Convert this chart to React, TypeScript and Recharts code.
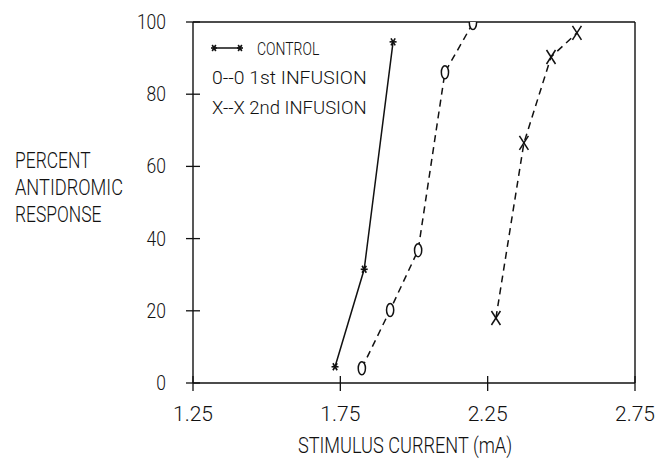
import React from 'react';
import { LineChart, Line, XAxis, YAxis, ReferenceLine, Legend } from 'recharts';

const FONT = 'Roboto, "Liberation Sans", "DejaVu Sans", sans-serif';
const INK = '#111';

const xTicks = [1.25, 1.75, 2.25, 2.75];
const yTicks = [0, 20, 40, 60, 80, 100];

const controlCurrent = [1.732, 1.831, 1.929];
const controlResponse = [4.5, 31.5, 94.5];

const infusion1Current = [1.823, 1.919, 2.014, 2.105, 2.2];
const infusion1Response = [4.1, 20.2, 36.8, 86.1, 99.7];

const infusion2Current = [2.278, 2.373, 2.465, 2.553];
const infusion2Response = [18.0, 66.5, 90.3, 97.0];

const seriesNames = ['CONTROL', '1st INFUSION', '2nd INFUSION'];
const legendSymbols = ['', '0--0', 'X--X'];
const axisTitleX = 'STIMULUS CURRENT (mA)';
const axisTitleY = ['PERCENT', 'ANTIDROMIC', 'RESPONSE'];

const zip = (xs: number[], ys: number[]) => xs.map((x, i) => ({ x, y: ys[i] }));

const controlData = zip(controlCurrent, controlResponse);
const infusion1Data = zip(infusion1Current, infusion1Response);
const infusion2Data = zip(infusion2Current, infusion2Response);

// Plotter-style monospaced text: each character gets a fixed advance.
const PText = ({
  x,
  y,
  text,
  size,
  charW,
  anchor = 'start',
  baseline = 'central',
}: {
  x: number;
  y: number;
  text: string;
  size: number;
  charW: number;
  anchor?: 'start' | 'middle' | 'end';
  baseline?: string;
}) => (
  <text
    x={x}
    y={y}
    textAnchor={anchor}
    dominantBaseline={baseline}
    fontFamily={FONT}
    fontWeight={300}
    fontSize={size}
    fill={INK}
    textLength={text.length * charW}
    lengthAdjust="spacingAndGlyphs"
  >
    {text}
  </text>
);

const Asterisk = ({ cx, cy, r = 3.5 }: { cx: number; cy: number; r?: number }) => (
  <g stroke={INK} strokeWidth={1.6}>
    <line x1={cx - r} y1={cy} x2={cx + r} y2={cy} />
    <line x1={cx - r * 0.6} y1={cy - r} x2={cx + r * 0.6} y2={cy + r} />
    <line x1={cx + r * 0.6} y1={cy - r} x2={cx - r * 0.6} y2={cy + r} />
  </g>
);

const ControlDot = (props: any) => {
  const { cx, cy, index } = props;
  if (cx == null || cy == null) return <g key={`c-${index}`} />;
  return (
    <g key={`c-${index}`}>
      <Asterisk cx={cx} cy={cy} />
    </g>
  );
};

const ZeroDot = (props: any) => {
  const { cx, cy, index } = props;
  if (cx == null || cy == null) return <g key={`o-${index}`} />;
  return (
    <ellipse
      key={`o-${index}`}
      cx={cx}
      cy={cy}
      rx={3.6}
      ry={6.5}
      fill="#fff"
      stroke={INK}
      strokeWidth={1.5}
    />
  );
};

const CrossDot = (props: any) => {
  const { cx, cy, index } = props;
  if (cx == null || cy == null) return <g key={`x-${index}`} />;
  return (
    <g key={`x-${index}`} stroke={INK} strokeWidth={1.5}>
      <line x1={cx - 4.5} y1={cy - 7} x2={cx + 4.5} y2={cy + 7} />
      <line x1={cx + 4.5} y1={cy - 7} x2={cx - 4.5} y2={cy + 7} />
    </g>
  );
};

const YTick = (props: any) => {
  const { x, y, payload } = props;
  const ax = x + 27;
  return (
    <g>
      <line x1={ax - 7} x2={ax + 7} y1={y} y2={y} stroke={INK} strokeWidth={1.3} />
      <PText x={x} y={y} text={String(payload.value)} size={20} charW={9.7} anchor="end" />
    </g>
  );
};

const XTick = (props: any) => {
  const { x, y, payload } = props;
  const ay = y - 31;
  return (
    <g>
      <line x1={x} x2={x} y1={ay - 7} y2={ay + 8} stroke={INK} strokeWidth={1.3} />
      <PText x={x} y={y} text={Number(payload.value).toFixed(2)} size={20} charW={10} anchor="middle" />
    </g>
  );
};

const YTitle = () => (
  <g>
    {axisTitleY.map((t, i) => (
      <PText key={t} x={15} y={160 + i * 27} text={t} size={22} charW={10.8} />
    ))}
  </g>
);

const XTitle = (props: any) => {
  const vb = props.viewBox || { x: 193, width: 442 };
  return (
    <PText
      x={vb.x + vb.width / 2 - 9}
      y={453}
      text={axisTitleX}
      size={22}
      charW={10.2}
      anchor="middle"
      baseline="alphabetic"
    />
  );
};

const LegendBox = () => (
  <svg width={170} height={90} style={{ display: 'block', overflow: 'visible' }}>
    <line x1={10} x2={36} y1={10} y2={10} stroke={INK} strokeWidth={1.5} />
    <Asterisk cx={10} cy={10} r={3} />
    <Asterisk cx={36} cy={10} r={3} />
    <PText x={53} y={10} text={seriesNames[0]} size={18} charW={8.9} />
    <PText x={8} y={39.5} text={`${legendSymbols[1]} ${seriesNames[1]}`} size={18} charW={9.1} />
    <PText x={8} y={69} text={`${legendSymbols[2]} ${seriesNames[2]}`} size={18} charW={9.1} />
  </svg>
);

export default function App() {
  return (
    <div
      style={{
        position: 'absolute',
        left: 0,
        top: 0,
        width: 664,
        height: 461,
        background: '#fff',
      }}
    >
      <LineChart
        width={664}
        height={461}
        margin={{ top: 22, right: 29, bottom: 0, left: 0 }}
      >
        <XAxis
          dataKey="x"
          type="number"
          domain={[1.25, 2.75]}
          ticks={xTicks}
          allowDataOverflow
          height={78}
          tickSize={8}
          tickMargin={23}
          tickLine={false}
          axisLine={{ stroke: INK, strokeWidth: 1.4 }}
          tick={<XTick />}
          label={<XTitle />}
        />
        <YAxis
          dataKey="y"
          type="number"
          domain={[0, 100]}
          ticks={yTicks}
          allowDataOverflow
          width={193}
          tickSize={7}
          tickMargin={20}
          tickLine={false}
          axisLine={{ stroke: INK, strokeWidth: 1.4 }}
          tick={<YTick />}
          label={<YTitle />}
        />
        <ReferenceLine y={100} stroke={INK} strokeWidth={1.4} />
        <ReferenceLine x={2.75} stroke={INK} strokeWidth={1.4} />
        <Legend
          layout="horizontal"
          verticalAlign="middle"
          align="center"
          wrapperStyle={{ position: 'absolute', left: 204, top: 38, width: 170, height: 90 }}
          content={() => <LegendBox />}
        />
        <Line
          data={controlData}
          dataKey="y"
          name={seriesNames[0]}
          type="linear"
          stroke={INK}
          strokeWidth={1.5}
          dot={ControlDot}
          activeDot={false}
          isAnimationActive={false}
        />
        <Line
          data={infusion1Data}
          dataKey="y"
          name={seriesNames[1]}
          type="linear"
          stroke={INK}
          strokeWidth={1.5}
          strokeDasharray="7 5"
          dot={ZeroDot}
          activeDot={false}
          isAnimationActive={false}
        />
        <Line
          data={infusion2Data}
          dataKey="y"
          name={seriesNames[2]}
          type="linear"
          stroke={INK}
          strokeWidth={1.5}
          strokeDasharray="7 5"
          dot={CrossDot}
          activeDot={false}
          isAnimationActive={false}
        />
      </LineChart>
    </div>
  );
}
